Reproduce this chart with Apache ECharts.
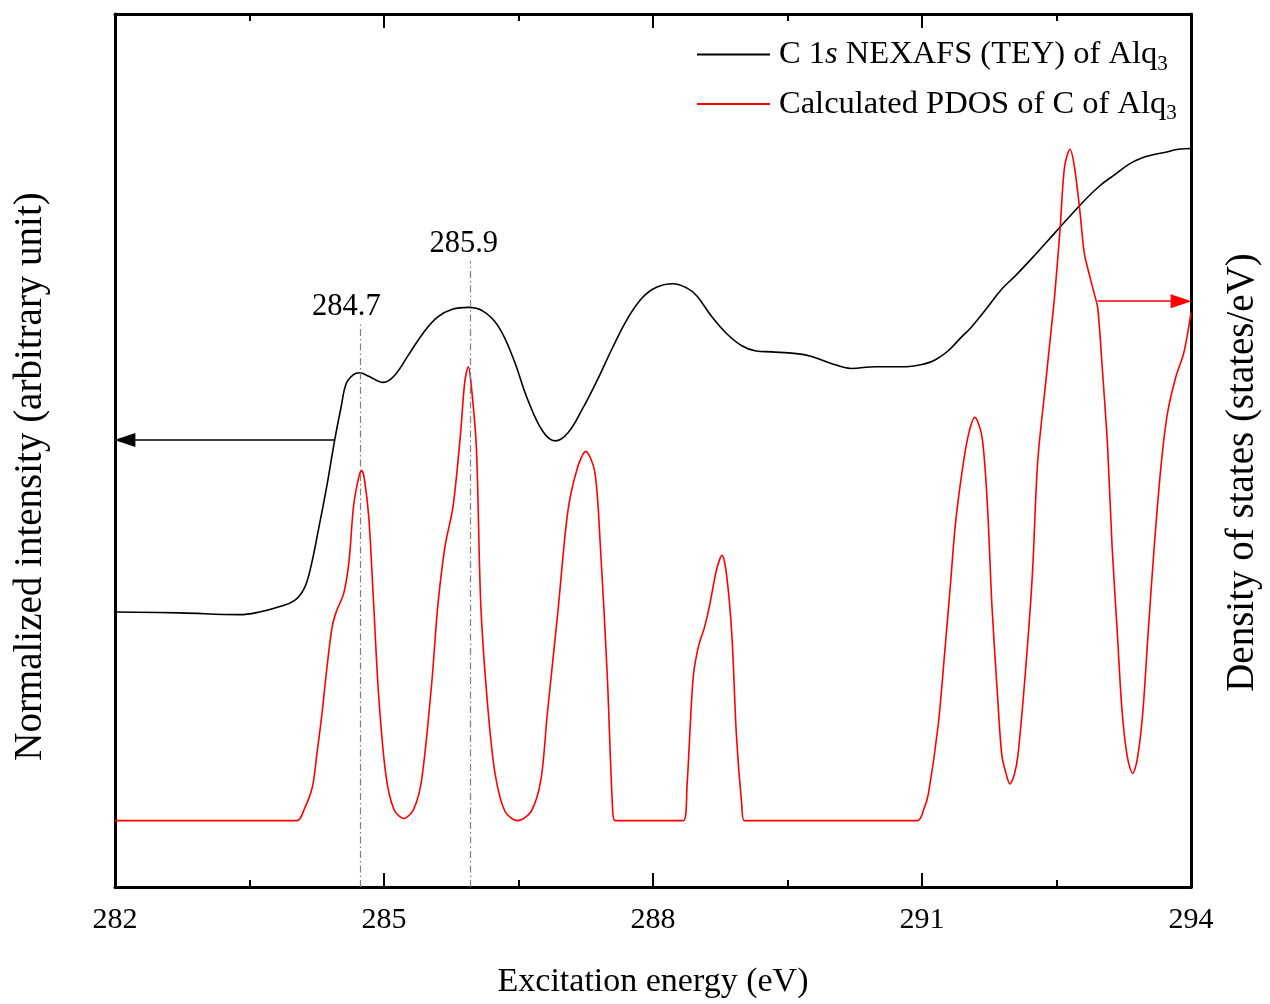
<!DOCTYPE html>
<html><head><meta charset="utf-8">
<script src="https://cdn.jsdelivr.net/npm/echarts@6/dist/echarts.min.js"></script>
<style>html,body{margin:0;padding:0;background:#fff;overflow:hidden}#c{width:1270px;height:1004px}</style>
</head><body><div id="c"></div>
<script>
// ---- data (arbitrary units 0..100) ----
const nexafsEnergy = [282.00,282.72,283.39,283.61,283.83,284.00,284.11,284.18,284.27,284.36,284.45,284.52,284.58,284.66,284.73,284.83,284.99,285.11,285.27,285.44,285.60,285.77,285.94,286.10,286.27,286.44,286.60,286.77,286.91,287.05,287.21,287.38,287.55,287.71,287.88,288.04,288.22,288.38,288.49,288.65,288.82,288.99,289.15,289.32,289.60,289.76,289.98,290.21,290.48,290.82,291.04,291.15,291.29,291.45,291.54,291.70,291.89,292.04,292.26,292.48,292.78,292.98,293.15,293.31,293.45,293.59,293.73,293.86,294.00];
const nexafsIntensity = [31.5,31.4,31.2,31.5,32.1,32.8,34.2,36.5,41.0,45.8,51.2,54.9,57.7,58.7,58.9,58.5,57.8,58.5,60.9,63.5,65.3,66.2,66.4,66.0,64.3,60.6,55.9,52.2,51.1,52.0,54.7,58.1,61.8,65.0,67.5,68.7,69.1,68.6,67.7,65.4,63.4,62.0,61.4,61.3,61.1,60.8,60.0,59.4,59.6,59.6,59.95,60.4,61.4,63.1,64.0,66.0,68.5,70.0,72.4,74.9,78.3,80.3,81.6,82.8,83.5,83.9,84.2,84.5,84.6];

const pdosEnergy = [282.00,284.03,284.11,284.20,284.25,284.31,284.36,284.42,284.47,284.55,284.61,284.66,284.72,284.75,284.78,284.83,284.88,284.94,285.02,285.11,285.22,285.33,285.42,285.53,285.60,285.68,285.77,285.85,285.90,285.94,285.97,286.03,286.08,286.16,286.24,286.35,286.49,286.64,286.75,286.82,286.94,287.05,287.16,287.25,287.35,287.41,287.49,287.55,287.58,288.34,288.38,288.41,288.45,288.51,288.57,288.63,288.71,288.77,288.82,288.88,288.93,288.99,289.02,290.95,291.02,291.07,291.18,291.26,291.32,291.37,291.45,291.52,291.59,291.67,291.73,291.78,291.84,291.89,291.94,291.98,292.03,292.07,292.15,292.23,292.29,292.38,292.42,292.48,292.54,292.59,292.65,292.70,292.76,292.81,292.87,292.92,292.96,293.01,293.07,293.12,293.18,293.23,293.29,293.35,293.40,293.46,293.52,293.59,293.67,293.74,293.83,293.92,294.00];
const pdosDensity = [7.6,7.6,8.9,11.4,15.1,20.0,24.8,29.7,31.6,33.6,37.3,43.6,47.0,47.7,46.8,42.4,33.3,22.0,12.9,8.9,7.85,8.9,12.3,23.1,32.2,39.0,43.6,51.5,57.8,59.6,57.8,50.4,32.2,20.3,12.9,8.65,7.6,8.65,12.3,19.7,31.6,43.0,48.1,49.9,47.6,39.6,24.2,8.9,7.6,7.6,11.7,17.4,24.2,27.7,29.6,32.2,36.4,38.0,35.8,28.8,17.4,9.4,7.6,7.6,8.9,10.6,18.5,27.7,35.0,41.3,47.8,51.9,53.8,51.5,43.6,32.2,22.3,15.1,12.9,11.8,12.9,15.1,24.2,35.6,48.7,57.8,61.8,67.8,75.4,82.5,84.5,82.5,77.5,72.6,70.0,68.0,66.3,59.5,50.4,39.0,28.8,20.3,14.9,13.0,14.6,19.7,28.8,39.0,48.7,54.4,58.4,61.2,65.8];

const xTickLabels = ['282', '285', '288', '291', '294'];
const seriesNames = ['C 1s NEXAFS (TEY) of Alq3', 'Calculated PDOS of C of Alq3'];
const peakEnergies = [284.74, 285.96];
const peakLineTops = [64.5, 71.7];
const peakLabels = ['284.7', '285.9'];
const peakLabelCoords = [[284.58, 66.4], [285.89, 73.6]];
const nexafsArrow = [[284.45, 51.2], [282.11, 51.2]];
const pdosArrow = [[292.96, 67.1], [293.89, 67.1]];

// ---- chart ----
const FONT = "'Liberation Serif','Times New Roman',serif";
const chart = echarts.init(document.getElementById('c'), null, {renderer: 'canvas', width: 1270, height: 1004});

const peakLines = peakEnergies.map((e, i) => [
  {coord: [e, 0], symbol: 'none', lineStyle: {color: '#7f7f7f', width: 1.2, type: [7, 3, 1.5, 3]}},
  {coord: [e, peakLineTops[i]], symbol: 'none'}
]);

const baseX = {
  type: 'value', min: 282, max: 294, interval: 3,
  axisLine: {show: true, onZero: false, lineStyle: {color: '#000', width: 3}},
  axisTick: {show: true, inside: true, length: 14, lineStyle: {color: '#000', width: 2}},
  minorTick: {show: true, splitNumber: 2, length: 7, lineStyle: {color: '#000', width: 2}},
  splitLine: {show: false}, minorSplitLine: {show: false}
};

chart.setOption({
  animation: false,
  backgroundColor: '#fff',
  grid: {left: 115, top: 14, width: 1082, height: 879},
  legend: {
    data: seriesNames, orient: 'vertical', left: 692, top: 33,
    itemWidth: 73, itemHeight: 2, itemGap: 13, icon: 'rect',
    selectedMode: false,
    formatter: function (name) {
      return name === seriesNames[0]
        ? '{a|C 1}{i|s}{a| NEXAFS (TEY) of Alq}{sub|3}'
        : '{a|Calculated PDOS of C of Alq}{sub|3}';
    },
    textStyle: {
      padding: [0, 0, 0, 4],
      rich: {
        a: {fontSize: 32.5, fontFamily: FONT, color: '#000', lineHeight: 40},
        i: {fontSize: 32.5, fontFamily: FONT, color: '#000', lineHeight: 40, fontStyle: 'italic'},
        sub: {fontSize: 21, fontFamily: FONT, color: '#000', lineHeight: 12, verticalAlign: 'bottom'}
      }
    }
  },
  xAxis: [
    Object.assign({}, baseX, {
      position: 'bottom',
      axisLabel: {show: true, fontSize: 30, fontFamily: FONT, color: '#000', margin: 18,
        formatter: v => xTickLabels[xTickLabels.indexOf(String(v))] || String(v)},
      name: 'Excitation energy (eV)', nameLocation: 'middle', nameGap: 78,
      nameTextStyle: {fontSize: 34, fontFamily: FONT, color: '#000'}
    }),
    Object.assign({}, baseX, {position: 'top', axisLabel: {show: false}})
  ],
  yAxis: [
    {
      type: 'value', min: 0, max: 100, position: 'left',
      axisLine: {show: true, onZero: false, lineStyle: {color: '#000', width: 3}},
      axisTick: {show: false}, axisLabel: {show: false}, splitLine: {show: false},
      name: 'Normalized intensity (arbitrary unit)', nameLocation: 'middle', nameGap: 65,
      nameTextStyle: {fontSize: 39, fontFamily: FONT, color: '#000', padding: [0, 52, 0, 0]}
    },
    {
      type: 'value', min: 0, max: 100, position: 'right',
      axisLine: {show: true, onZero: false, lineStyle: {color: '#000', width: 3}},
      axisTick: {show: false}, axisLabel: {show: false}, splitLine: {show: false},
      name: 'Density of states (states/eV)', nameLocation: 'middle', nameGap: 32,
      nameTextStyle: {fontSize: 39, fontFamily: FONT, color: '#000', padding: [0, 44, 0, 0]}
    }
  ],
  series: [
    {
      name: seriesNames[0], type: 'line', xAxisIndex: 0, yAxisIndex: 0,
      data: nexafsEnergy.map((e, i) => [e, nexafsIntensity[i]]),
      symbol: 'none', showSymbol: false, smooth: 0.4,
      lineStyle: {color: '#000', width: 1.6}, itemStyle: {color: '#000'},
      markLine: {
        silent: true, symbol: ['none', 'none'], label: {show: false},
        data: peakLines.concat([[
          {coord: nexafsArrow[0], symbol: 'none', lineStyle: {color: '#000', width: 1.6, type: 'solid'}},
          {coord: nexafsArrow[1], symbol: 'triangle', symbolSize: [14, 21], symbolRotate: 90}
        ]])
      },
      markPoint: {
        silent: true, symbol: 'circle', symbolSize: 1,
        itemStyle: {color: 'rgba(0,0,0,0)'},
        label: {show: true, position: 'inside', color: '#000', fontSize: 30.5, fontFamily: FONT,
          formatter: p => p.name},
        data: peakLabels.map((t, i) => ({name: t, coord: peakLabelCoords[i]}))
      }
    },
    {
      name: seriesNames[1], type: 'line', xAxisIndex: 0, yAxisIndex: 1,
      data: pdosEnergy.map((e, i) => [e, pdosDensity[i]]),
      symbol: 'none', showSymbol: false, smooth: 0.3,
      lineStyle: {color: '#ff0000', width: 1.6}, itemStyle: {color: '#ff0000'},
      markLine: {
        silent: true, symbol: ['none', 'none'], label: {show: false},
        data: [[
          {coord: pdosArrow[0], symbol: 'none', lineStyle: {color: '#ff0000', width: 1.6, type: 'solid'}},
          {coord: pdosArrow[1], symbol: 'triangle', symbolSize: [14, 21], symbolRotate: -90}
        ]]
      }
    }
  ]
});
</script></body></html>
